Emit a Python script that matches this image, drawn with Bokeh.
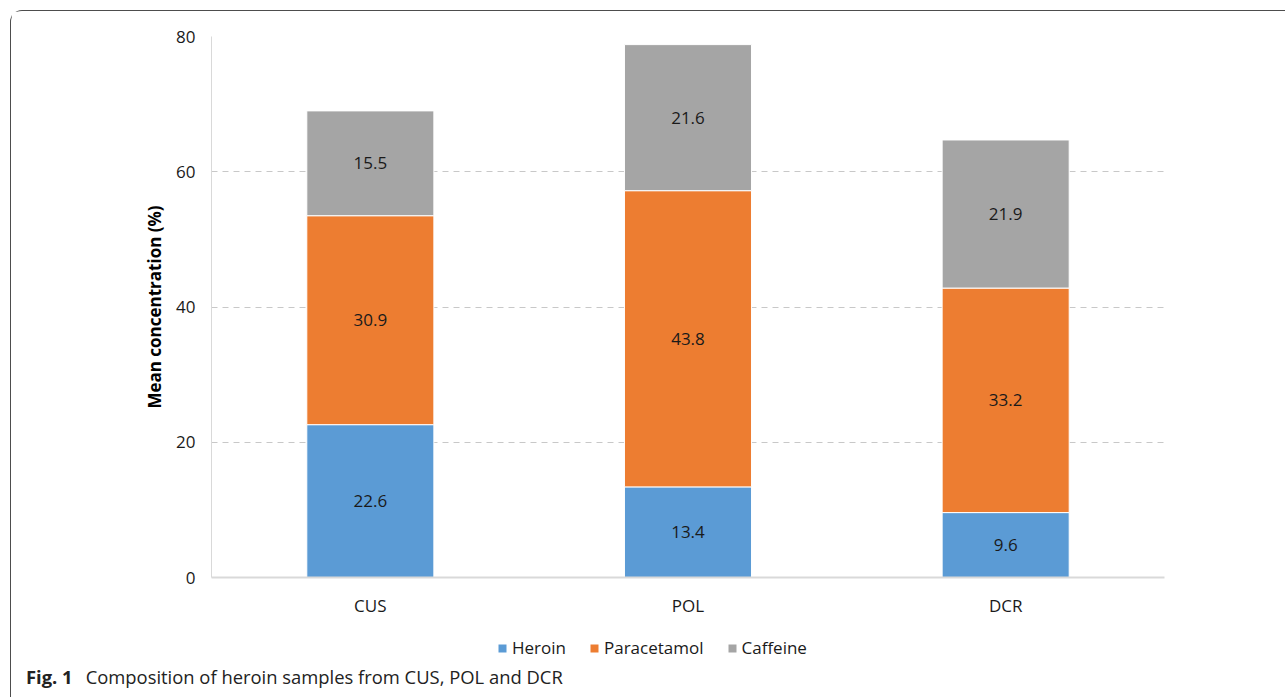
from bokeh.plotting import figure
from bokeh.layouts import column
from bokeh.models import (ColumnDataSource, FactorRange, LabelSet, Legend, LegendItem,
                          SingleIntervalTicker, Range1d, Div)
from bokeh.core.properties import value
from bokeh.embed import file_html
from bokeh.resources import INLINE

# Mean concentration (%) of each compound per sample origin
origins = ["CUS", "POL", "DCR"]
heroin = [22.6, 13.4, 9.6]
paracetamol = [30.9, 43.8, 33.2]
caffeine = [15.5, 21.6, 21.9]

compounds = ["Heroin", "Paracetamol", "Caffeine"]
colors = ["#5B9BD5", "#ED7D31", "#A5A5A5"]

FONT = "Open Sans"
TEXT = "#1a1a1a"
W = 1273
LEFT, RIGHT = 200, 120

src = ColumnDataSource(dict(origin=origins, Heroin=heroin,
                            Paracetamol=paracetamol, Caffeine=caffeine))

p = figure(x_range=FactorRange(*origins, range_padding=0), y_range=(0, 80),
           width=W, height=614, output_backend="svg", toolbar_location=None,
           min_border_left=LEFT, min_border_right=RIGHT,
           min_border_top=25, min_border_bottom=48)
p.outline_line_color = None
p.border_fill_color = "white"

stacks = p.vbar_stack(compounds, x="origin", width=0.4, source=src,
                      fill_color=colors, line_color="white", line_width=1)

# value labels centred in each segment
rows = {"x": [], "y": [], "t": []}
for i, o in enumerate(origins):
    base = 0.0
    for series in (heroin, paracetamol, caffeine):
        v = series[i]
        rows["x"].append(o)
        rows["y"].append(base + v / 2)
        rows["t"].append(f"{v:.1f}")
        base += v
lab_src = ColumnDataSource(rows)
p.add_layout(LabelSet(x="x", y="y", text="t", source=lab_src,
                      text_align="center", text_baseline="middle",
                      text_font=value(FONT), text_font_size="17px", text_color=TEXT))

# axes
p.yaxis.ticker = SingleIntervalTicker(interval=20)
p.yaxis.axis_label = "Mean concentration (%)"
p.yaxis.axis_label_text_font = FONT
p.yaxis.axis_label_text_font_style = "bold"
p.yaxis.axis_label_text_font_size = "17px"
p.yaxis.axis_label_text_color = "#000000"
p.yaxis.axis_label_standoff = 7
p.yaxis.major_label_text_font = FONT
p.yaxis.major_label_text_font_size = "17px"
p.yaxis.major_label_text_color = TEXT
p.yaxis.major_label_standoff = 10
p.yaxis.axis_line_color = "#d9d9d9"
p.yaxis.major_tick_line_color = None
p.yaxis.minor_tick_line_color = None

p.xaxis.major_label_text_font = FONT
p.xaxis.major_label_text_font_size = "17px"
p.xaxis.major_label_text_color = TEXT
p.xaxis.major_label_standoff = 10
p.xaxis.axis_line_color = "#d9d9d9"
p.xaxis.axis_line_width = 2
p.xaxis.major_tick_line_color = None
p.xaxis.minor_tick_line_color = None

p.xgrid.grid_line_color = None
p.ygrid.grid_line_color = "#c8c8c8"
p.ygrid.grid_line_dash = "6 5"
p.ygrid.grid_line_width = 1

# legend strip under the chart, frame aligned with the chart frame
H2 = 40
leg = figure(width=W, height=H2, x_range=Range1d(0, 1), y_range=Range1d(0, 1),
             output_backend="svg", toolbar_location=None,
             min_border_left=LEFT, min_border_right=RIGHT,
             min_border_top=0, min_border_bottom=0,
             x_axis_type=None, y_axis_type=None)
leg.outline_line_color = None
leg.grid.visible = False
leg.border_fill_color = "white"

# swatch renderers sit outside the visible range; they only feed the legend
swatches = [leg.vbar(x=[-10], top=[-10], bottom=[-11], width=0.1,
                     fill_color=c, line_color=None) for c in colors]
legend = Legend(items=[LegendItem(label=c, renderers=[r]) for c, r in zip(compounds, swatches)],
                orientation="horizontal", location=(286, 6),
                label_text_font=FONT, label_text_font_size="17px",
                label_text_color=TEXT, glyph_width=10, glyph_height=10,
                label_standoff=5, spacing=23, padding=0, margin=0,
                border_line_color=None, background_fill_alpha=0)
leg.add_layout(legend)

caption = Div(
    text='<span style="font-weight:bold;">Fig. 1</span>'
         '<span style="margin-left:13px;">Composition of heroin samples from CUS, POL and DCR</span>',
    width=W, height=30,
    styles={"font-family": "'Open Sans', sans-serif", "font-size": "18.4px",
            "line-height": "13px", "color": "#222222", "padding-left": "10px",
            "white-space": "nowrap"})

page = column(p, leg, caption, spacing=0, margin=(10, 0, 0, 10),
              styles={"border-top": "1.5px solid #4d4d4d",
                      "border-left": "1.5px solid #4d4d4d",
                      "border-top-left-radius": "12px"})

open("out.html", "w").write(file_html(page, INLINE))
